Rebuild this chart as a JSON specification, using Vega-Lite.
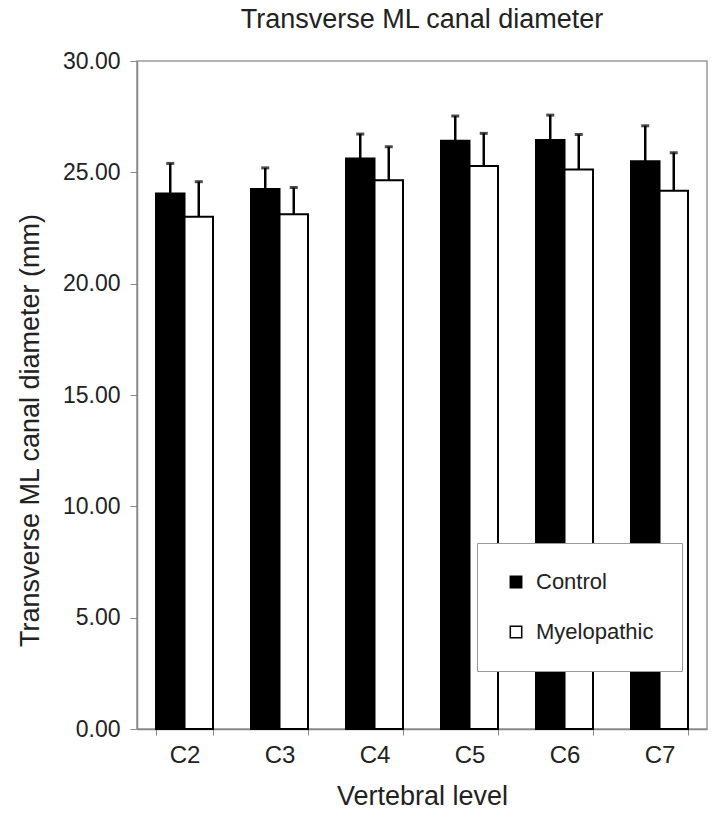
{
  "$schema": "https://vega.github.io/schema/vega-lite/v6.json",
  "width": 570,
  "height": 668,
  "autosize": {"type": "none"},
  "padding": {"left": 137, "top": 61, "right": 10, "bottom": 94},
  "background": "white",
  "config": {
    "font": "Liberation Sans",
    "view": {"stroke": "#999999", "strokeWidth": 1.5},
    "axis": {"grid": false, "labelColor": "#222222", "titleColor": "#222222", "titleFontWeight": "normal", "domainColor": "#888888", "tickColor": "#888888"}
  },
  "title": {"text": "Transverse ML canal diameter", "fontSize": 27, "fontWeight": "normal", "color": "#222222", "anchor": "middle", "offset": 16},
  "data": {
    "values": [
      {"level": "C2", "group": "Control", "mean": 24.05, "upper": 25.40},
      {"level": "C2", "group": "Myelopathic", "mean": 23.0, "upper": 24.58},
      {"level": "C3", "group": "Control", "mean": 24.25, "upper": 25.2},
      {"level": "C3", "group": "Myelopathic", "mean": 23.12, "upper": 24.32},
      {"level": "C4", "group": "Control", "mean": 25.62, "upper": 26.72},
      {"level": "C4", "group": "Myelopathic", "mean": 24.65, "upper": 26.15},
      {"level": "C5", "group": "Control", "mean": 26.42, "upper": 27.53},
      {"level": "C5", "group": "Myelopathic", "mean": 25.28, "upper": 26.75},
      {"level": "C6", "group": "Control", "mean": 26.45, "upper": 27.57},
      {"level": "C6", "group": "Myelopathic", "mean": 25.13, "upper": 26.7},
      {"level": "C7", "group": "Control", "mean": 25.5, "upper": 27.09},
      {"level": "C7", "group": "Myelopathic", "mean": 24.17, "upper": 25.88}
    ]
  },
  "encoding": {
    "x": {
      "field": "level", "type": "nominal",
      "scale": {"paddingInner": 0.4, "paddingOuter": 0.2},
      "axis": {"title": "Vertebral level", "labelAngle": 0, "labelFontSize": 24, "titleFontSize": 27, "tickBand": "extent", "tickSize": 6, "labelPadding": 8, "titlePadding": 16, "domainWidth": 1.5}
    },
    "xOffset": {"field": "group", "type": "nominal", "sort": ["Control", "Myelopathic"]}
  },
  "layer": [
    {
      "mark": {"type": "rule", "color": "black", "strokeWidth": 2.5},
      "encoding": {
        "y": {"field": "mean", "type": "quantitative"},
        "y2": {"field": "upper"}
      }
    },
    {
      "mark": {"type": "tick", "color": "black", "size": 8, "thickness": 3},
      "encoding": {
        "y": {"field": "upper", "type": "quantitative"}
      }
    },
    {
      "mark": {"type": "bar", "stroke": "black", "strokeWidth": 2},
      "encoding": {
        "y": {
          "field": "mean", "type": "quantitative",
          "scale": {"domain": [0, 30], "nice": false},
          "axis": {"title": "Transverse ML canal diameter  (mm)", "format": ".2f", "values": [0, 5, 10, 15, 20, 25, 30], "labelFontSize": 23, "titleFontSize": 27, "tickSize": 7, "labelPadding": 10, "titlePadding": 18, "titleY": 369, "domainWidth": 1.5}
        },
        "fill": {
          "field": "group", "type": "nominal",
          "scale": {"domain": ["Control", "Myelopathic"], "range": ["black", "white"]},
          "legend": {
            "title": null, "orient": "none", "legendX": 340, "legendY": 482,
            "fillColor": "white", "strokeColor": "#999999", "padding": 28,
            "symbolType": "square", "symbolSize": 130, "symbolStrokeColor": "black", "symbolStrokeWidth": 1.5,
            "labelFontSize": 22, "labelColor": "#222222", "labelOffset": 9, "rowPadding": 28
          }
        }
      }
    }
  ]
}
